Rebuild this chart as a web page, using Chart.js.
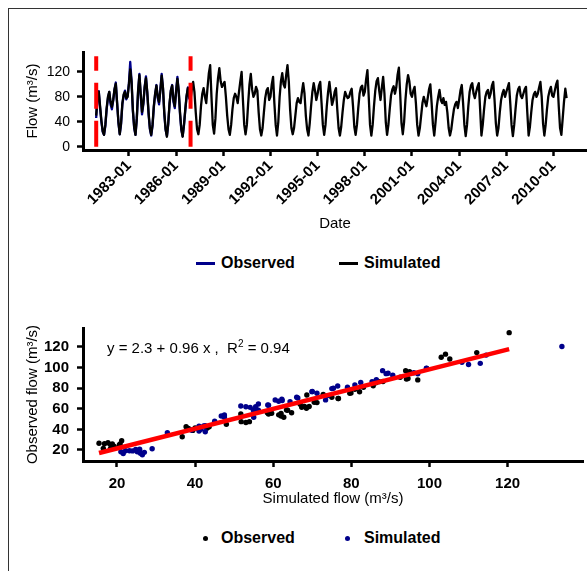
<!DOCTYPE html>
<html>
<head>
<meta charset="utf-8">
<script src="https://cdn.jsdelivr.net/npm/chart.js@4.4.1/dist/chart.umd.min.js"></script>
<style>
  html, body { margin: 0; padding: 0; background: #fff; overflow: hidden; }
  body { width: 587px; height: 571px; position: relative; font-family: "Liberation Sans", Arial, sans-serif; color: #000; }
  .frame { position: absolute; left: 8px; top: 8px; width: 620px; height: 620px; border-left: 1px solid #333; border-top: 1px solid #333; }
  #flowWrap { position: absolute; left: 0; top: 0; width: 587px; height: 240px; }
  #scatWrap { position: absolute; left: 0; top: 290px; width: 587px; height: 230px; }
  .lg { position: absolute; font-size: 16px; font-weight: bold; line-height: 18px; white-space: nowrap; }
  .swatch { position: absolute; height: 2.5px; width: 19px; }
  .dot { position: absolute; width: 5px; height: 5px; border-radius: 50%; }
  .eq { position: absolute; left: 107px; top: 339px; font-size: 15px; line-height: 18px; white-space: nowrap; }
  .eq sup { font-size: 10px; vertical-align: 6px; line-height: 0; }
</style>
</head>
<body>
<div class="frame"></div>
<div id="flowWrap"><canvas id="flowChart"></canvas></div>
<div id="scatWrap"><canvas id="scatChart"></canvas></div>

<!-- legends -->
<div class="swatch" style="left:196px; top:262px; background:#00008B;"></div>
<div class="lg" style="left:221px; top:254px;">Observed</div>
<div class="swatch" style="left:339px; top:262px; background:#000;"></div>
<div class="lg" style="left:364px; top:254px;">Simulated</div>

<div class="eq">y = 2.3 + 0.96 x ,&nbsp; R<sup>2</sup> = 0.94</div>

<div class="dot" style="left:203px; top:536px; background:#000;"></div>
<div class="lg" style="left:221px; top:529px;">Observed</div>
<div class="dot" style="left:345px; top:536px; background:#00008B;"></div>
<div class="lg" style="left:364px; top:529px;">Simulated</div>

<script>
// monthly series, first month = Dec 1980
var START_YEAR = 1980 + 11 / 12;

var simFlow = [
    50, 80, 88, 65, 42, 25, 19,
    35, 62, 80, 88, 72, 64, 75, 92, 101, 70, 40, 20,
    38, 70, 84, 88, 78, 80, 100, 124, 105, 60, 32, 19,
    45, 90, 115, 85, 56, 70, 95, 110, 88, 55, 30, 19,
    35, 65, 85, 98, 80, 72, 90, 114, 95, 55, 28, 16,
    38, 70, 90, 98, 75, 65, 88, 109, 90, 55, 28, 16,
    35, 60, 82, 94, 80, 75, 92, 104, 88, 55, 28, 20,
    35, 65, 85, 94, 80, 70, 95, 118, 131, 80, 35, 21,
    45, 85, 110, 126, 105, 96, 100, 104, 80, 50, 28, 19,
    35, 60, 78, 85, 80, 70, 88, 105, 120, 75, 35, 20,
    35, 70, 100, 117, 92, 80, 85, 96, 90, 55, 28, 18,
    30, 55, 78, 90, 94, 75, 80, 100, 112, 70, 35, 18,
    40, 80, 105, 118, 100, 95, 115, 131, 105, 60, 30, 20,
    30, 50, 70, 78, 72, 70, 88, 102, 85, 50, 28, 18,
    38, 65, 88, 102, 90, 75, 85, 98, 104, 70, 35, 19,
    35, 65, 88, 104, 85, 67, 75, 88, 94, 60, 30, 18,
    32, 55, 75, 88, 82, 78, 80, 88, 93, 65, 32, 19,
    35, 62, 85, 95, 98, 82, 88, 108, 123, 80, 35, 18,
    35, 65, 90, 105, 110, 90, 75, 95, 112, 85, 40, 19,
    35, 60, 82, 92, 97, 85, 95, 115, 127, 85, 38, 20,
    40, 75, 100, 115, 105, 85, 80, 90, 96, 70, 35, 18,
    30, 50, 70, 80, 72, 65, 78, 92, 100, 70, 35, 18,
    40, 65, 80, 91, 75, 70, 78, 67, 72, 55, 30, 18,
    28, 45, 60, 68, 72, 62, 75, 90, 99, 70, 35, 17,
    35, 65, 88, 98, 102, 85, 78, 88, 96, 102, 60, 18,
    35, 60, 80, 88, 91, 78, 85, 98, 104, 75, 38, 18,
    30, 55, 75, 85, 91, 80, 88, 95, 102, 70, 35, 17,
    35, 60, 82, 92, 96, 82, 78, 85, 92, 96, 55, 18,
    32, 55, 75, 84, 88, 80, 85, 95, 104, 80, 38, 18,
    35, 60, 80, 90, 96, 82, 80, 90, 100, 106, 65, 30,
    19, 45, 72, 93, 78
];

// observed flow, calibration period only (Dec 1980 - Dec 1986)
var obsFlow = [
    46, 78, 89, 62, 40, 24, 19,
    33, 60, 78, 88, 68, 60, 74, 92, 103, 70, 38, 20,
    36, 68, 82, 90, 76, 82, 102, 136, 106, 58, 30, 19,
    44, 88, 117, 82, 52, 68, 96, 113, 86, 52, 28, 18,
    33, 63, 84, 99, 78, 68, 92, 117, 93, 52, 27, 17,
    36, 68, 90, 99, 72, 62, 90, 112, 88, 52, 27, 17,
    34, 58, 80, 95, 78, 74
];

var calBounds = [1980.92, 1986.92];
var dateTicks = [1983, 1986, 1989, 1992, 1995, 1998, 2001, 2004, 2007, 2010];
var flowTicks = [0, 40, 80, 120];

// scatter: simulated vs observed, calibration months
var scatSim = [
    15.4, 16.5, 17.7, 18.3, 18.8, 19.1, 19.3, 19.3, 20.6, 18.3, 16.8, 21.2, 20.8,
    36.7, 37.7, 38.3, 39.4, 41.0, 40.0, 43.3, 43.6, 43.0, 48.0, 53.0, 51.8, 53.9, 51.7,
    62.7, 61.4, 58.8, 62.0, 64.7, 58.5, 59.6, 62.0, 63.7, 63.4, 68.5, 69.2, 67.3, 68.0, 66.9, 71.2, 70.5, 68.6,
    76.6, 75.0, 76.7, 72.8, 79.9, 79.6, 82.1, 80.9, 83.1, 85.6, 86.3, 87.1, 88.1, 92.5, 94.5, 93.9, 94.1, 94.9, 97.0, 99.3,
    103.0, 104.1, 105.2, 112.1, 120.4
];
var scatObs = [
    26.5, 21.6, 27.0, 25.2, 25.8, 24.0, 22.2, 23.2, 24.8, 21.0, 26.0, 29.0, 25.8,
    32.9, 42.6, 41.0, 39.0, 40.5, 41.5, 42.2, 42.6, 41.0, 45.0, 46.7, 47.5, 47.5, 55.0,
    51.7, 54.1, 54.9, 55.5, 56.2, 56.2, 55.6, 53.0, 58.6, 58.8, 60.5, 62.2, 61.4, 62.3, 64.3, 66.0, 66.3, 73.4,
    69.9, 71.2, 70.0, 74.0, 75.4, 75.0, 76.5, 79.0, 80.9, 82.4, 85.3, 86.3, 86.4, 90.6, 89.4, 97.0, 88.9, 96.0, 88.0, 99.2,
    110.0, 113.0, 108.3, 114.5, 133.9
];
var fitIntercept = 2.3, fitSlope = 0.96;
var scatTicks = [20, 40, 60, 80, 100, 120];

var FONT = '"Liberation Sans", Arial, sans-serif';
var BLUE = '#00008B';

function monthX(i) { return START_YEAR + i / 12; }
function toPoints(arr) { return arr.map(function (v, i) { return { x: monthX(i), y: v }; }); }
function vline(x) { return [{ x: x, y: 0 }, { x: x, y: 145 }]; }

function axisStyle() {
    return {
        grid: { display: true, drawOnChartArea: false, drawTicks: true, tickLength: 6, tickWidth: 2.5, tickColor: '#000', color: '#000' },
        border: { display: true, color: '#000', width: 3 }
    };
}

// Flow time series
var fx = axisStyle(), fy = axisStyle();
new Chart(document.getElementById('flowChart').getContext('2d'), {
    type: 'line',
    data: {
        datasets: [
            { data: vline(calBounds[0]), borderColor: '#FF0000', borderWidth: 4, borderDash: [26, 12], pointRadius: 0, order: 0 },
            { data: vline(calBounds[1]), borderColor: '#FF0000', borderWidth: 4, borderDash: [26, 12], pointRadius: 0, order: 0 },
            { label: 'Simulated', data: toPoints(simFlow), borderColor: '#000', borderWidth: 2.3, pointRadius: 0, tension: 0, borderJoinStyle: 'round', order: 1 },
            { label: 'Observed', data: toPoints(obsFlow), borderColor: BLUE, borderWidth: 2.3, pointRadius: 0, tension: 0, borderJoinStyle: 'round', order: 2 }
        ]
    },
    options: {
        responsive: true,
        maintainAspectRatio: false,
        animation: false,
        layout: { padding: { top: 52, left: 0, right: 0, bottom: 0 } },
        plugins: { legend: { display: false }, tooltip: { enabled: false } },
        scales: {
            x: {
                type: 'linear', min: 1980.08, max: 2012.13,
                afterBuildTicks: function (s) { s.ticks = dateTicks.map(function (v) { return { value: v }; }); },
                afterFit: function (s) { s.height = 90; },
                ticks: {
                    autoSkip: false, minRotation: 45, maxRotation: 45, color: '#000', padding: 1,
                    font: { family: FONT, size: 15, weight: 'bold' },
                    callback: function (v) { return v + '-01'; }
                },
                grid: fx.grid, border: fx.border,
                title: { display: true, text: 'Date', color: '#000', font: { family: FONT, size: 15 }, padding: { top: 0, bottom: 7 } }
            },
            y: {
                min: -5.3, max: 152,
                afterBuildTicks: function (s) { s.ticks = flowTicks.map(function (v) { return { value: v }; }); },
                afterFit: function (s) { s.width = 83; },
                ticks: { color: '#000', padding: 7, font: { family: FONT, size: 14 } },
                grid: fy.grid, border: fy.border,
                title: { display: true, text: 'Flow (m³/s)', color: '#000', font: { family: FONT, size: 15 }, padding: { top: 24, bottom: 0 } }
            }
        }
    }
});

// Simulated vs observed scatter
var sx = axisStyle(), sy = axisStyle();
var fitX = [Math.min.apply(null, scatSim), Math.max.apply(null, scatSim)];
new Chart(document.getElementById('scatChart').getContext('2d'), {
    type: 'scatter',
    data: {
        datasets: [
            { data: fitX.map(function (x) { return { x: x, y: fitIntercept + fitSlope * x }; }),
              showLine: true, borderColor: '#FF0000', borderWidth: 4.5, pointRadius: 0, order: 0 },
            { label: 'Simulated', data: scatObs.map(function (o, k) { return { x: o, y: scatSim[k] }; }),
              backgroundColor: BLUE, pointRadius: 2.7, pointBorderWidth: 0, order: 1 },
            { label: 'Observed', data: scatSim.map(function (s, k) { return { x: s, y: scatObs[k] }; }),
              backgroundColor: '#000', pointRadius: 2.7, pointBorderWidth: 0, order: 2 }
        ]
    },
    options: {
        responsive: true,
        maintainAspectRatio: false,
        animation: false,
        layout: { padding: { top: 38, left: 0, right: 0, bottom: 0 } },
        plugins: { legend: { display: false }, tooltip: { enabled: false } },
        scales: {
            x: {
                type: 'linear', min: 11.3, max: 139.3,
                afterBuildTicks: function (s) { s.ticks = scatTicks.map(function (v) { return { value: v }; }); },
                afterFit: function (s) { s.height = 59; },
                ticks: { color: '#000', padding: 8, maxRotation: 0, font: { family: FONT, size: 15, weight: 'bold' } },
                grid: sx.grid, border: sx.border,
                title: { display: true, text: 'Simulated flow (m³/s)', color: '#000', font: { family: FONT, size: 15 }, padding: { top: 0, bottom: 12 } }
            },
            y: {
                type: 'linear', min: 9.3, max: 138.4,
                afterBuildTicks: function (s) { s.ticks = scatTicks.map(function (v) { return { value: v }; }); },
                afterFit: function (s) { s.width = 83; },
                ticks: { color: '#000', padding: 8, font: { family: FONT, size: 15, weight: 'bold' } },
                grid: sy.grid, border: sy.border,
                title: { display: true, text: 'Observed flow (m³/s)', color: '#000', font: { family: FONT, size: 15 }, padding: { top: 24, bottom: 0 } }
            }
        }
    }
});
</script>
</body>
</html>
